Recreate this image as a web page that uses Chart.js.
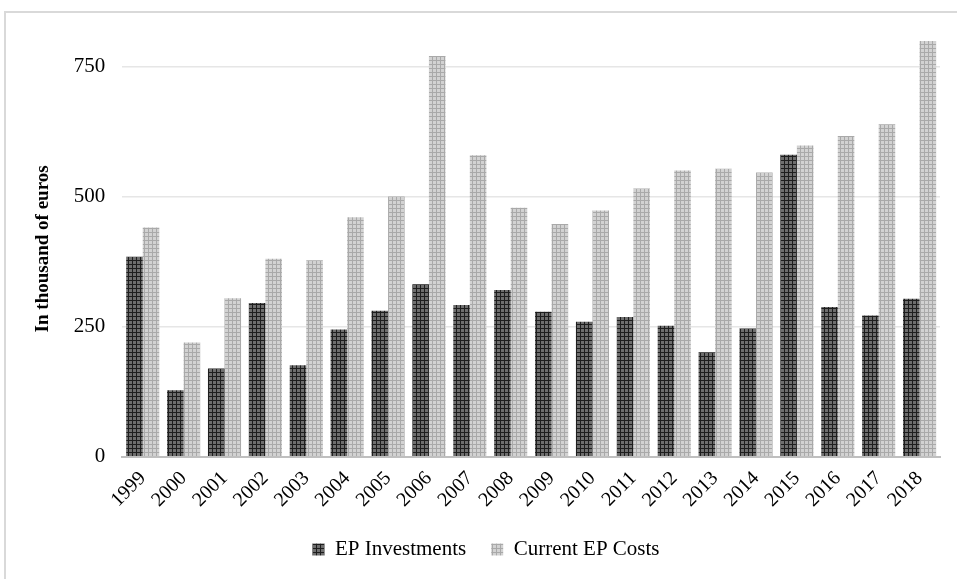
<!DOCTYPE html>
<html>
<head>
<meta charset="utf-8">
<script src="https://cdn.jsdelivr.net/npm/chart.js@4"></script>
<style>
  html, body { margin: 0; padding: 0; background: #fff; }
  #wrap { position: relative; width: 957px; height: 579px; overflow: hidden; }
  #frame { position: absolute; left: 4px; top: 11px; width: 1000px; height: 700px;
           border: 2px solid #d9d9d9; box-sizing: border-box; }
  #chart { position: absolute; left: 0; top: 0; }
</style>
</head>
<body>
<div id="wrap">
  <div id="frame"></div>
  <canvas id="chart" width="957" height="579"></canvas>
</div>
<script>
// Chart data (thousand of euros)
const years = ['1999', '2000', '2001', '2002', '2003', '2004', '2005', '2006', '2007', '2008',
  '2009', '2010', '2011', '2012', '2013', '2014', '2015', '2016', '2017', '2018'];
const investments = [385, 128, 170, 296, 176, 245, 281, 332, 292, 321,
  279, 260, 269, 252, 201, 247, 581, 288, 272, 304];
const currentCosts = [441, 220, 305, 381, 378, 461, 501, 771, 580, 479,
  448, 474, 516, 551, 554, 547, 599, 617, 640, 800];
const yTicks = [0, 250, 500, 750];

// Hatched fills like the Excel pattern bars
function makePattern(base, line) {
  const c = document.createElement('canvas');
  c.width = 4; c.height = 4;
  const g = c.getContext('2d');
  g.fillStyle = base;
  g.fillRect(0, 0, 4, 4);
  g.fillStyle = line;
  g.fillRect(0, 0, 4, 1);
  g.fillRect(0, 0, 1, 4);
  return g.createPattern(c, 'repeat');
}

const ctx = document.getElementById('chart').getContext('2d');
const darkFill = makePattern('#6e6e6e', '#1e1e1e');
const lightFill = makePattern('#d2d2d2', '#a9a9a9');

const font = 'Liberation Serif';

new Chart(ctx, {
  type: 'bar',
  data: {
    labels: years,
    datasets: [
      { label: 'EP Investments', data: investments, backgroundColor: darkFill,
        categoryPercentage: 0.81, barPercentage: 1.0 },
      { label: 'Current EP Costs', data: currentCosts, backgroundColor: lightFill,
        categoryPercentage: 0.81, barPercentage: 1.0 }
    ]
  },
  options: {
    responsive: false,
    animation: false,
    layout: { padding: { left: 32, right: 17, top: 41, bottom: 9 } },
    plugins: {
      legend: {
        position: 'bottom',
        labels: {
          color: '#000',
          font: { family: font, size: 21 },
          boxWidth: 12,
          boxHeight: 12,
          padding: 25
        }
      },
      tooltip: { enabled: false }
    },
    scales: {
      x: {
        grid: { display: false },
        border: { color: '#bfbfbf', width: 2 },
        ticks: {
          color: '#000',
          font: { family: font, size: 20 },
          minRotation: 45,
          maxRotation: 45,
          padding: 2
        }
      },
      y: {
        min: 0,
        max: 800,
        afterBuildTicks: axis => { axis.ticks = yTicks.map(v => ({ value: v })); },
        grid: { color: '#e6e6e6', lineWidth: 1.5, drawTicks: false },
        border: { display: false },
        ticks: {
          color: '#000',
          font: { family: font, size: 21 },
          padding: 17
        },
        title: {
          display: true,
          text: 'In thousand of euros',
          color: '#000',
          font: { family: font, size: 19, weight: 'bold' },
          padding: { top: 0, bottom: 2 }
        }
      }
    }
  }
});
</script>
</body>
</html>
